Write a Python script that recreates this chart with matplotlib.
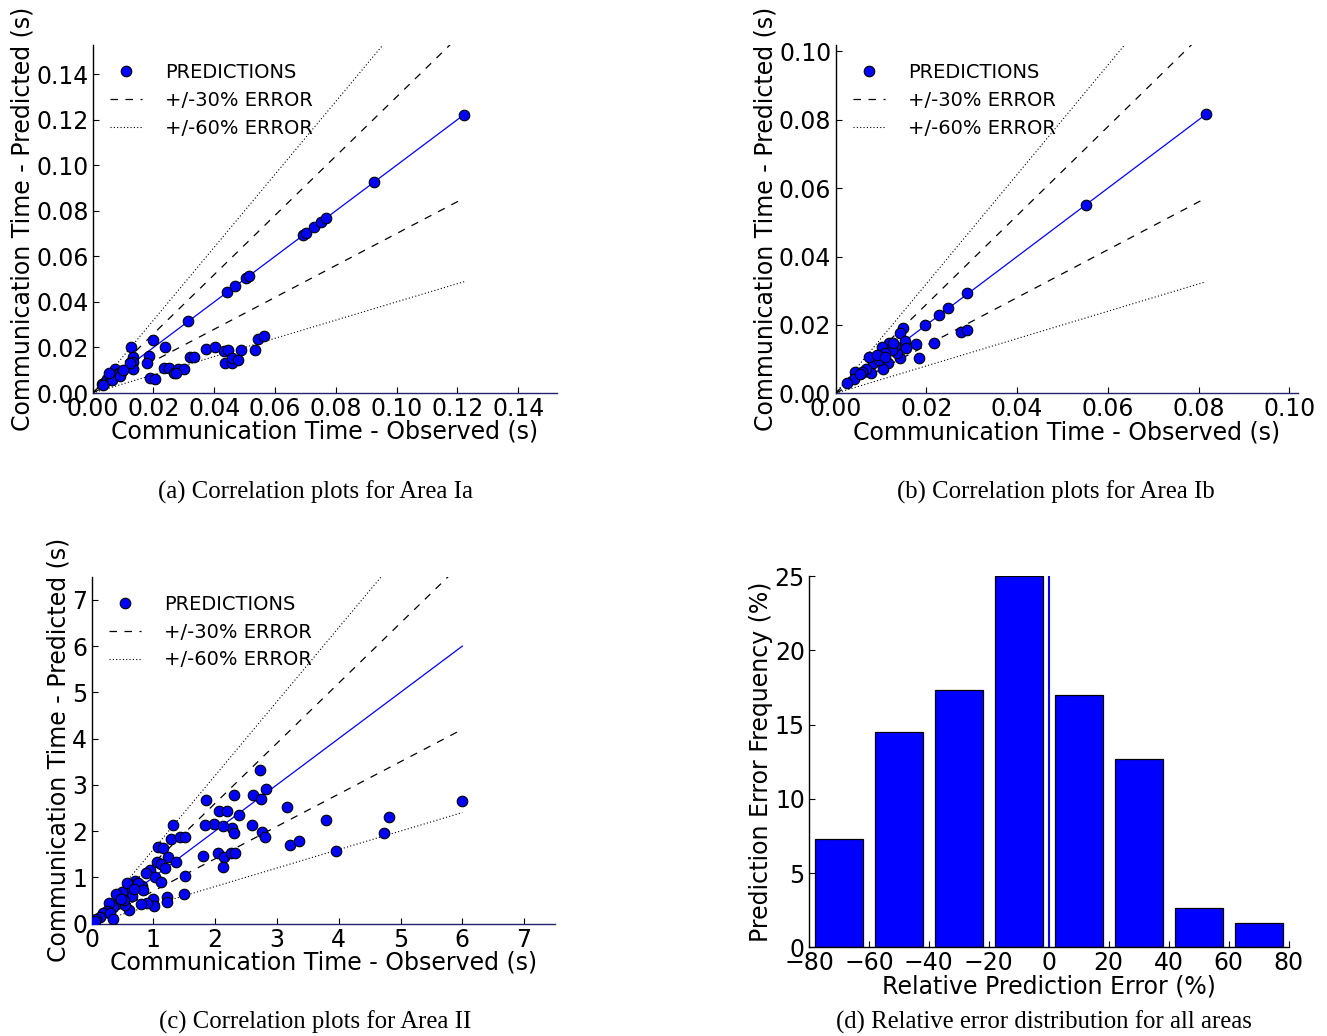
import numpy as np
import matplotlib
matplotlib.use("Agg")
import matplotlib.pyplot as plt
from matplotlib.ticker import FormatStrFormatter, MultipleLocator

# ---------------- data ----------------
# Area Ia (seconds)
obs_a = [0.1222, 0.0924, 0.0692, 0.0703, 0.0727, 0.0751, 0.0769, 0.0441, 0.0468, 0.0505,
         0.0514, 0.0313, 0.0127, 0.0198, 0.0239, 0.0184, 0.0178, 0.0134, 0.0134, 0.0134,
         0.0123, 0.0321, 0.0332, 0.0373, 0.0402, 0.0433, 0.0446, 0.0487, 0.0534, 0.0545,
         0.0562, 0.0435, 0.0459, 0.0457, 0.0477, 0.0233, 0.0250, 0.0266, 0.0279, 0.0299,
         0.0274, 0.0189, 0.0206, 0.0031, 0.0037, 0.0048, 0.0057, 0.0072, 0.0075, 0.0086,
         0.0097, 0.0064, 0.0090, 0.0035, 0.0053, 0.0101]
pred_a = [0.1221, 0.0924, 0.0692, 0.0703, 0.0727, 0.0750, 0.0767, 0.0442, 0.0468, 0.0506,
          0.0514, 0.0315, 0.0200, 0.0233, 0.0204, 0.0162, 0.0130, 0.0156, 0.0136, 0.0104,
          0.0133, 0.0159, 0.0156, 0.0193, 0.0203, 0.0185, 0.0190, 0.0188, 0.0188, 0.0239,
          0.0252, 0.0130, 0.0130, 0.0155, 0.0147, 0.0108, 0.0108, 0.0086, 0.0104, 0.0105,
          0.0089, 0.0064, 0.0063, 0.0039, 0.0045, 0.0060, 0.0069, 0.0104, 0.0080, 0.0086,
          0.0098, 0.0057, 0.0074, 0.0036, 0.0086, 0.0101]

# Area Ib (seconds)
obs_b = [0.0815, 0.0552, 0.0290, 0.0248, 0.0227, 0.0198, 0.0276, 0.0289, 0.0217, 0.0177,
         0.0185, 0.0149, 0.0141, 0.0154, 0.0155, 0.0142, 0.0135, 0.0132, 0.0117, 0.0124,
         0.0102, 0.0108, 0.0116, 0.0105, 0.0083, 0.0073, 0.0095, 0.0079, 0.0067, 0.0058,
         0.0042, 0.0041, 0.0026, 0.0053, 0.0091, 0.0127, 0.0110]
pred_b = [0.0818, 0.0552, 0.0293, 0.0250, 0.0229, 0.0200, 0.0180, 0.0185, 0.0148, 0.0143,
          0.0103, 0.0190, 0.0176, 0.0154, 0.0132, 0.0102, 0.0117, 0.0137, 0.0146, 0.0127,
          0.0134, 0.0117, 0.0090, 0.0070, 0.0088, 0.0105, 0.0096, 0.0059, 0.0070, 0.0061,
          0.0062, 0.0041, 0.0029, 0.0055, 0.0112, 0.0146, 0.0107]

# Area II (seconds)
obs_c = [6.00, 4.82, 4.73, 3.80, 3.95, 3.16, 3.22, 3.35, 2.72, 2.82, 2.61, 2.75, 2.76, 2.80,
         2.59, 2.30, 2.39, 2.27, 2.31, 2.06, 2.20, 1.98, 2.12, 1.85, 1.83, 1.81, 2.05, 2.14,
         2.12, 2.26, 2.33, 1.32, 1.29, 1.43, 1.52, 1.07, 1.16, 1.24, 1.36, 1.06, 1.13, 1.19,
         0.95, 0.88, 1.02, 1.12, 1.52, 1.49, 1.22, 1.22, 1.00, 1.01, 0.90, 0.80, 0.82, 0.71,
         0.67, 0.62, 0.49, 0.39, 0.44, 0.60, 0.55, 0.66, 0.52, 0.35, 0.29, 0.25, 0.19, 0.14,
         0.08, 0.05, 0.30, 0.35, 0.57, 0.76, 0.84, 0.47, 0.68]
pred_c = [2.64, 2.31, 1.95, 2.23, 1.57, 2.51, 1.70, 1.79, 3.33, 2.92, 2.78, 2.70, 1.97, 1.88,
          2.12, 2.77, 2.34, 2.07, 1.95, 2.44, 2.44, 2.15, 2.11, 2.68, 2.14, 1.46, 1.52, 1.43,
          1.23, 1.53, 1.53, 2.14, 1.82, 1.88, 1.88, 1.66, 1.63, 1.43, 1.33, 1.33, 1.29, 1.19,
          1.16, 1.09, 1.01, 0.90, 1.03, 0.64, 0.57, 0.47, 0.54, 0.38, 0.44, 0.42, 0.81, 0.93,
          0.84, 0.74, 0.68, 0.64, 0.44, 0.29, 0.41, 0.60, 0.51, 0.36, 0.44, 0.28, 0.22, 0.15,
          0.10, 0.06, 0.22, 0.10, 0.87, 0.87, 0.72, 0.52, 0.74]

# Relative error distribution (all areas)
err_centers = [-70, -50, -30, -10, 10, 30, 50, 70]
err_freq = [7.31, 14.48, 17.33, 25.0, 16.99, 12.66, 2.63, 1.64]

captions = ["(a) Correlation plots for Area Ia",
            "(b) Correlation plots for Area Ib",
            "(c) Correlation plots for Area II",
            "(d) Relative error distribution for all areas"]

# ---------------- style ----------------
plt.rcParams['font.family'] = ['DejaVu Sans']
FS = 17
SPINE_BOTTOM = '#23236e'

W, H = 1327, 1036
fig = plt.figure(figsize=(W / 100, H / 100), dpi=100)


def style_axes(ax, bottom_color='black'):
    ax.spines['top'].set_visible(False)
    ax.spines['right'].set_visible(False)
    ax.spines['bottom'].set_color(bottom_color)
    for s in ('left', 'bottom'):
        ax.spines[s].set_linewidth(1.0)
    ax.tick_params(direction='in', length=4, width=0.8, labelsize=FS,
                   top=False, right=False, pad=3)


def corr_panel(rect, obs, pred, step, fmt):
    ax = fig.add_axes(rect)
    obs = np.asarray(obs)
    pred = np.asarray(pred)
    mx = obs.max()
    lim = 1.25 * mx
    xs = np.array([0.0, mx])
    ax.plot(obs, pred, 'o', color='blue', mec='black', mew=0.8, ms=7.6,
            label='PREDICTIONS', zorder=3)
    ax.plot([obs.min(), mx], [obs.min(), mx], '-', color='blue', lw=0.9, zorder=2)
    ax.plot(xs, 1.3 * xs, '--', color='black', lw=0.9, dashes=(6, 6), label='+/-30% ERROR')
    ax.plot(xs, 0.7 * xs, '--', color='black', lw=0.9, dashes=(6, 6))
    ax.plot(xs, 1.6 * xs, ':', color='black', lw=0.8, dashes=(1, 2))
    ax.plot(xs, 0.4 * xs, ':', color='black', lw=0.8, dashes=(1, 2), label='+/-60% ERROR')
    ax.set_xlim(0, lim)
    ax.set_ylim(0, lim)
    ax.xaxis.set_major_locator(MultipleLocator(step))
    ax.yaxis.set_major_locator(MultipleLocator(step))
    ax.xaxis.set_major_formatter(FormatStrFormatter(fmt))
    ax.yaxis.set_major_formatter(FormatStrFormatter(fmt))
    style_axes(ax, SPINE_BOTTOM)
    ax.set_xlabel('Communication Time - Observed (s)', fontsize=FS, labelpad=-1)
    ax.set_ylabel('Communication Time - Predicted (s)', fontsize=FS, labelpad=1)
    ax.legend(loc='upper left', frameon=False, numpoints=1, fontsize=14,
              handlelength=1.65, handletextpad=1.2, borderaxespad=0.0,
              labelspacing=0.45, bbox_to_anchor=(0.02, 0.97))
    return ax


def rect(l, t, r, b):
    return [l / W, 1 - b / H, (r - l) / W, (b - t) / H]


corr_panel(rect(92.7, 45, 557, 393), obs_a, pred_a, 0.02, '%.2f')
corr_panel(rect(835.5, 45, 1298, 393.3), obs_b, pred_b, 0.02, '%.2f')
corr_panel(rect(91.5, 576.8, 555, 923.5), obs_c, pred_c, 1, '%d')

# histogram panel
axd = fig.add_axes(rect(809, 576, 1288.5, 947.3))
axd.bar(err_centers, err_freq, width=16, color='blue', edgecolor='black', linewidth=0.9)
axd.axvline(0, color='blue', lw=1.5)
axd.set_xlim(-80, 80)
axd.set_ylim(0, 25)
axd.xaxis.set_major_locator(MultipleLocator(20))
axd.yaxis.set_major_locator(MultipleLocator(5))
style_axes(axd)
axd.set_xlabel('Relative Prediction Error (%)', fontsize=FS, labelpad=-1)
axd.set_ylabel('Prediction Error Frequency (%)', fontsize=FS, labelpad=1)

# captions
cap_kw = dict(family='Liberation Serif', fontsize=17.8, ha='center', va='center')
fig.text(315 / W, 1 - 492 / H, captions[0], **cap_kw)
fig.text(1056 / W, 1 - 492 / H, captions[1], **cap_kw)
fig.text(315 / W, 1 - 1022 / H, captions[2], **cap_kw)
fig.text(1044 / W, 1 - 1022 / H, captions[3], **cap_kw)

fig.savefig('out.png', dpi=100)
